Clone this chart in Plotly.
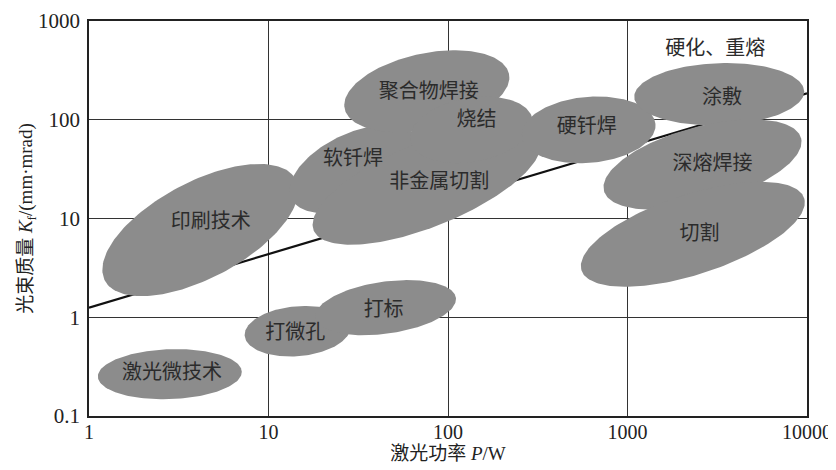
import numpy as np
import plotly.graph_objects as go

# ---------------- data ----------------
app_names = ["印刷技术", "软钎焊", "非金属切割", "聚合物焊接", "烧结", "硬钎焊",
             "涂敷", "深熔焊接", "切割", "打微孔", "打标", "激光微技术"]
# centre of each application region: laser power P (W), beam quality K_f (mm·mrad)
app_power = [4.17, 30.3, 76.2, 76.2, 135, 608, 3243, 2618, 2312, 14.5, 44.9, 2.82]
app_quality = [7.64, 31.6, 22.0, 194, 79, 79, 181.6, 35.2, 6.92, 0.722, 1.25, 0.265]

label_names = ["印刷技术", "软钎焊", "非金属切割", "聚合物焊接", "烧结", "硬钎焊",
               "硬化、重熔", "涂敷", "深熔焊接", "切割", "打微孔", "打标", "激光微技术"]
label_power = [4.77, 29.6, 89.5, 78.2, 144, 593, 3083, 3365, 2972, 2522, 14.1, 43.8, 2.90]
label_quality = [9.06, 39.2, 23.0, 186, 98, 82.5, 505, 163, 35.2, 6.76, 0.684, 1.16, 0.265]

trend_power = [1, 10000]
trend_quality = [1.25, 185]

x_tick_vals = [1, 10, 100, 1000, 10000]
x_tick_text = ["1", "10", "100", "1000", "10000"]
y_tick_vals = [0.1, 1, 10, 100, 1000]
y_tick_text = ["0.1", "1", "10", "100", "1000"]

# ---------------- geometry / style ----------------
PAGE_PAD = 8                      # default body margin of the written page
W, H = 836 - PAGE_PAD, 470 - PAGE_PAD
ML, MR, MT, MB = 89 - PAGE_PAD, 29, 21 - PAGE_PAD, 54
XR = (0, 4)     # log10 range
YR = (-1, 3)
px_dec_x = (W - ML - MR) / (XR[1] - XR[0])
px_dec_y = (H - MT - MB) / (YR[1] - YR[0])

# ellipse half-axes (screen px) and tilt (deg), same order as app_names
ellipse_geom = [(108, 48, 28), (70, 36, 25), (122, 42, 22), (84, 38, 12), (62, 32, 10),
                (67, 33, 5), (85, 31, 2), (102, 38, 15), (117, 40, 18), (53, 25, 5),
                (71, 26, 8), (72, 25, 2)]

FILL = "#8c8c8c"
INK = "#2b2b2b"
SERIF = "Liberation Serif, DejaVu Serif, serif"
TITLE_FONT = "Liberation Serif, Noto Sans CJK SC, serif"
CJK = "Noto Sans CJK SC, sans-serif"

fig = go.Figure()

# trend line (behind the regions)
fig.add_trace(go.Scatter(x=trend_power, y=trend_quality, mode="lines",
                         line=dict(color="#111", width=2.2), hoverinfo="skip",
                         showlegend=False))

t = np.linspace(0, 2 * np.pi, 181)
for name, p, k, (a, b, ang) in zip(app_names, app_power, app_quality, ellipse_geom):
    th = np.deg2rad(ang)
    u0 = np.log10(p) * px_dec_x
    v0 = np.log10(k) * px_dec_y
    u = u0 + a * np.cos(th) * np.cos(t) - b * np.sin(th) * np.sin(t)
    v = v0 + a * np.sin(th) * np.cos(t) + b * np.cos(th) * np.sin(t)
    fig.add_trace(go.Scatter(x=10 ** (u / px_dec_x), y=10 ** (v / px_dec_y),
                             mode="lines", fill="toself", fillcolor=FILL,
                             line=dict(width=0, color=FILL), name=name,
                             hoverinfo="skip", showlegend=False))

fig.add_trace(go.Scatter(x=label_power, y=label_quality, mode="text",
                         text=label_names,
                         textfont=dict(family=CJK, size=20, color=INK),
                         hoverinfo="skip", showlegend=False))

axis_common = dict(type="log", showgrid=True, gridcolor="#333", gridwidth=1.2,
                   showline=True, linecolor="#222", linewidth=1.6, mirror=True,
                   ticks="", zeroline=False)

fig.update_xaxes(**axis_common, range=list(XR), tickvals=x_tick_vals,
                 ticktext=x_tick_text, ticklabelstandoff=-3,
                 tickfont=dict(family=SERIF, size=20, color="#222"),
                 title=dict(text="激光功率 <i>P</i>/W",
                            font=dict(family=TITLE_FONT, size=19, color="#222"),
                            standoff=0))
fig.update_yaxes(**axis_common, range=list(YR), tickvals=y_tick_vals,
                 ticktext=y_tick_text, ticklabelstandoff=3,
                 tickfont=dict(family=SERIF, size=21, color="#222"),
                 title=dict(text="光束质量 <i>K</i><sub>f</sub>/(mm·mrad)",
                            font=dict(family=TITLE_FONT, size=19, color="#222"),
                            standoff=0))

fig.update_layout(width=W, height=H, autosize=False,
                  margin=dict(l=ML, r=MR, t=MT, b=MB, autoexpand=False),
                  paper_bgcolor="white", plot_bgcolor="white",
                  showlegend=False)

fig.write_html("out.html")
